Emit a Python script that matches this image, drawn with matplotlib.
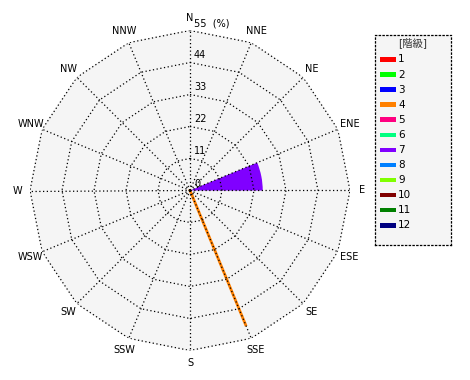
import matplotlib
matplotlib.use('Agg')
import matplotlib.pyplot as plt
import numpy as np

plt.rcParams['font.family'] = ['DejaVu Sans', 'Noto Sans CJK JP']

directions = ['N', 'NNE', 'NE', 'ENE', 'E', 'ESE', 'SE', 'SSE',
              'S', 'SSW', 'SW', 'WSW', 'W', 'WNW', 'NW', 'NNW']
ring_values = [11, 22, 33, 44, 55]
r_max = 55

classes = ['1', '2', '3', '4', '5', '6', '7', '8', '9', '10', '11', '12']
class_colors = ['#ff0000', '#00ff00', '#0000ff', '#ff8000', '#ff0080', '#00ff80',
                '#8000ff', '#0080ff', '#80ff00', '#800000', '#008000', '#000080']

# sectors: class, from direction, to direction, value (%)
sector_class = ['7', '4']
sector_from = ['ENE', 'SSE']
sector_to = ['E', 'SSE']
sector_value = [25, 50]

fig = plt.figure(figsize=(4.7, 3.8), dpi=100)
cx, cy, rad = 190 / 470, 1 - 190.5 / 380, 160
ax = fig.add_axes([cx - rad / 470, cy - rad / 380, 2 * rad / 470, 2 * rad / 380],
                  projection='polar')
ax.set_theta_zero_location('N')
ax.set_theta_direction(-1)
ax.set_ylim(0, r_max)
ax.axis('off')

theta = np.deg2rad(np.arange(16) * 22.5)
theta_closed = np.append(theta, theta[0])

# background polygon
ax.fill(theta_closed, [r_max] * 17, color='#f5f5f5', zorder=0)

dot = (0, (1, 2))
for rv in ring_values:
    ax.plot(theta_closed, [rv] * 17, color='black', lw=0.9, ls=dot, zorder=3)
for t in theta:
    ax.plot([t, t], [0, r_max], color='black', lw=0.9, ls=dot, zorder=3)

# sectors
for c, f, t, v in zip(sector_class, sector_from, sector_to, sector_value):
    t0 = np.deg2rad(directions.index(f) * 22.5)
    t1 = np.deg2rad(directions.index(t) * 22.5)
    col = class_colors[classes.index(c)]
    if t1 > t0:
        ax.bar((t0 + t1) / 2, v, width=t1 - t0, bottom=0, color=col,
               edgecolor='none', zorder=2)
    else:
        ax.plot([t0, t0], [0, v], color=col, lw=2, zorder=2)

# direction labels
for t, d in zip(theta, directions):
    ax.text(t, r_max + 4.3, d, ha='center', va='center', fontsize=7)

# ring labels
ax.annotate('0', (0, 0), xytext=(4, 1), textcoords='offset pixels',
            ha='left', va='bottom', fontsize=7)
for rv in ring_values:
    lab = f'{rv}  (%)' if rv == r_max else f'{rv}'
    ax.annotate(lab, (0, rv), xytext=(4, 2), textcoords='offset pixels',
                ha='left', va='bottom', fontsize=7)

# legend
lx0, ly0, lw, lh = 375, 35, 76, 210
lax = fig.add_axes([lx0 / 470, 1 - (ly0 + lh) / 380, lw / 470, lh / 380])
lax.set_xlim(0, lw)
lax.set_ylim(lh, 0)
lax.set_xticks([])
lax.set_yticks([])
lax.set_facecolor('#f5f5f5')
for s in lax.spines.values():
    s.set_linestyle(dot)
    s.set_linewidth(0.9)
lax.text(lw / 2, 8, '[階級]', ha='center', va='center', fontsize=7.5, color='#333333')
for i, (c, col) in enumerate(zip(classes, class_colors)):
    y = 24.5 + i * 15.07
    lax.add_patch(plt.Rectangle((5, y - 2.3), 15.5, 4.6, color=col, lw=0))
    lax.text(23, y, c, ha='left', va='center', fontsize=7.5)

fig.savefig('out.png', dpi=100)
